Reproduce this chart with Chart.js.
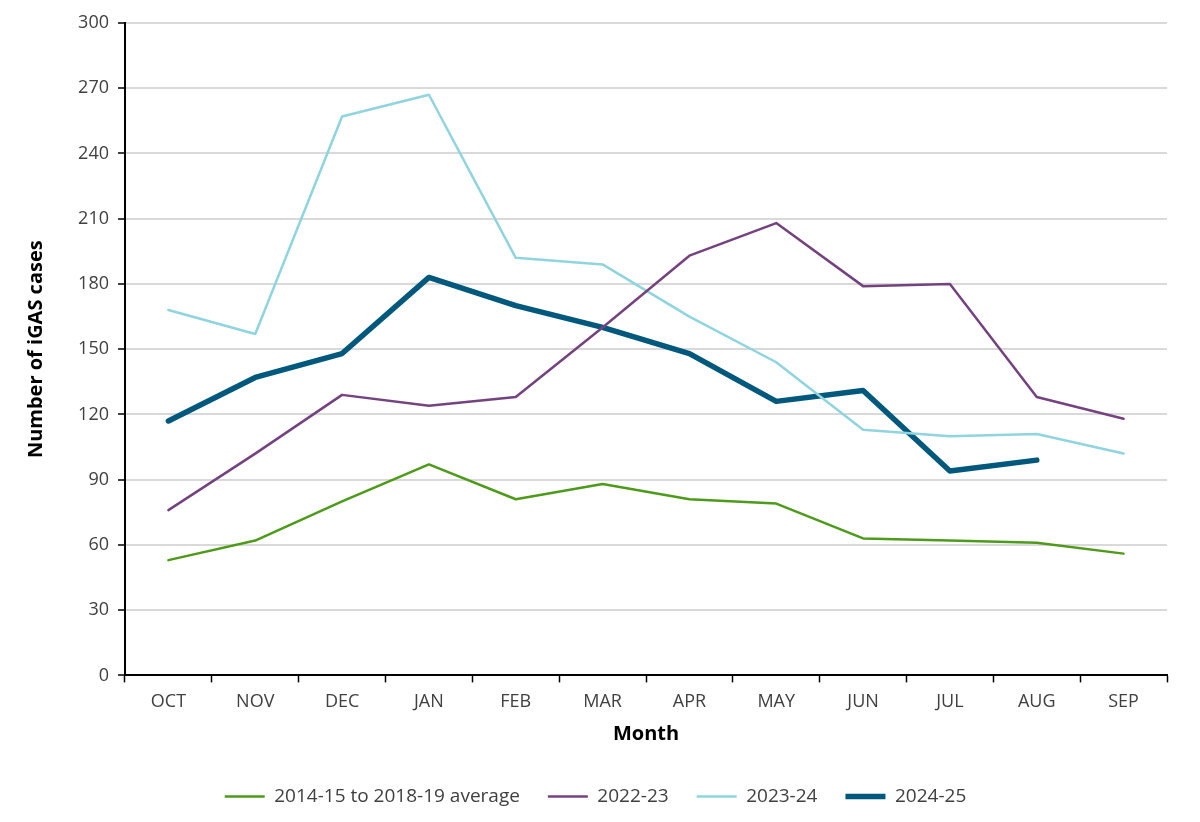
<!DOCTYPE html>
<html>
<head>
<meta charset="utf-8">
<script src="https://cdn.jsdelivr.net/npm/chart.js@4"></script>
<style>
  html, body { margin: 0; padding: 0; background: #fff; }
  #wrap { width: 1200px; height: 822px; }
</style>
</head>
<body>
<div id="wrap"><canvas id="myChart" width="1200" height="822"></canvas></div>
<script>
// months of the reporting year, Oct to Sep
const months = ['OCT', 'NOV', 'DEC', 'JAN', 'FEB', 'MAR', 'APR', 'MAY', 'JUN', 'JUL', 'AUG', 'SEP'];

// values
const avg2014to2019 = [53, 62, 80, 97, 81, 88, 81, 79, 63, 62, 61, 56];
const season2022 = [76, 102, 129, 124, 128, 160, 193, 208, 179, 180, 128, 118];
const season2023 = [168, 157, 257, 267, 192, 189, 165, 144, 113, 110, 111, 102];
const season2024 = [117, 137, 148, 183, 170, 160, 148, 126, 131, 94, 99, null]; // no SEP yet

const fontName = '"Open Sans", "Noto Sans", sans-serif';

function fixWidth(w) {
  return function (scale) { scale.width = w; };
}

const data = {
  labels: months,
  datasets: [
    { label: '2014-15 to 2018-19 average', data: avg2014to2019, borderColor: '#4e9a1a', backgroundColor: '#4e9a1a', borderWidth: 2.5 },
    { label: '2022-23', data: season2022, borderColor: '#74427f', backgroundColor: '#74427f', borderWidth: 2.5 },
    { label: '2023-24', data: season2023, borderColor: '#8fd4de', backgroundColor: '#8fd4de', borderWidth: 2.5 },
    { label: '2024-25', data: season2024, borderColor: '#00587c', backgroundColor: '#00587c', borderWidth: 5.5 }
  ]
};

const config = {
  type: 'line',
  data: data,
  options: {
    responsive: false,
    animation: false,
    devicePixelRatio: 1,
    layout: { padding: { left: 24, right: 33, top: 23, bottom: 6 } },
    elements: {
      point: { radius: 0, hoverRadius: 0 },
      line: { tension: 0, borderCapStyle: 'round', borderJoinStyle: 'round' }
    },
    scales: {
      x: {
        offset: true,
        grid: { offset: true, drawOnChartArea: false, tickLength: 7, tickColor: '#000', tickWidth: 1.5 },
        border: { color: '#000', width: 2 },
        ticks: { color: '#404040', font: { family: fontName, size: 18 }, padding: 9 },
        title: { display: true, text: 'Month', color: '#000', font: { family: fontName, size: 20, weight: 'bold' }, padding: { top: 0, bottom: 13 } }
      },
      y: {
        min: 0,
        max: 300,
        afterFit: fixWidth(101),
        ticks: { stepSize: 30, color: '#404040', font: { family: fontName, size: 18 }, padding: 9 },
        grid: { color: '#d9d9d9', lineWidth: 2, tickLength: 7, tickColor: '#000', tickWidth: 1.5 },
        border: { color: '#000', width: 2 },
        title: { display: true, text: 'Number of iGAS cases', color: '#000', font: { family: fontName, size: 20, weight: 'bold' }, padding: 0 }
      }
    },
    plugins: {
      legend: {
        position: 'bottom',
        labels: {
          usePointStyle: true,
          pointStyle: 'line',
          pointStyleWidth: 40,
          color: '#404040',
          font: { family: fontName, size: 19 },
          padding: 28
        }
      },
      tooltip: { enabled: false }
    }
  }
};

const myChart = new Chart(document.getElementById('myChart'), config);
</script>
</body>
</html>
